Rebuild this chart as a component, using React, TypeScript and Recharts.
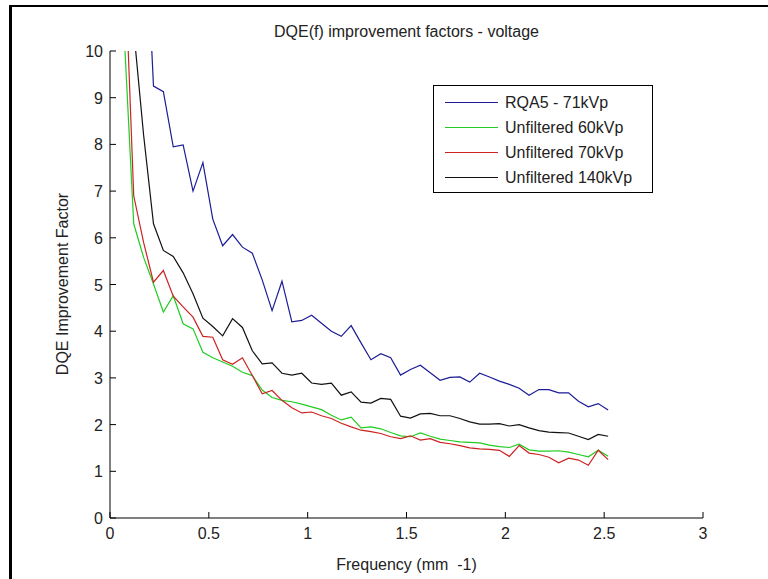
import { LineChart, Line, XAxis, YAxis } from "recharts";

// frequency (mm^-1)
const freq = [
  0.07, 0.12, 0.17, 0.22, 0.27, 0.32, 0.37, 0.42, 0.47, 0.52,
  0.57, 0.62, 0.67, 0.72, 0.77, 0.82, 0.87, 0.92, 0.97, 1.02,
  1.07, 1.12, 1.17, 1.22, 1.27, 1.32, 1.37, 1.42, 1.47, 1.52,
  1.57, 1.62, 1.67, 1.72, 1.77, 1.82, 1.87, 1.92, 1.97, 2.02,
  2.07, 2.12, 2.17, 2.22, 2.27, 2.32, 2.37, 2.42, 2.47, 2.52,
];

const rqa5 = [
  24, 18, 13.7, 9.25, 9.13, 7.95, 7.99, 7.0, 7.61, 6.4,
  5.83, 6.07, 5.8, 5.67, 5.1, 4.44, 5.07, 4.2, 4.23, 4.34,
  4.17, 4.0, 3.89, 4.12, 3.75, 3.39, 3.52, 3.43, 3.06, 3.18,
  3.27, 3.11, 2.95, 3.01, 3.02, 2.91, 3.1, 3.02, 2.93, 2.86,
  2.78, 2.63, 2.75, 2.75, 2.68, 2.68, 2.5, 2.38, 2.45, 2.31,
];

const unf60 = [
  10.5, 6.3, 5.58, 5.01, 4.41, 4.76, 4.16, 4.05, 3.55, 3.43,
  3.34, 3.25, 3.12, 3.05, 2.74, 2.58, 2.52, 2.49, 2.44, 2.38,
  2.32, 2.2, 2.1, 2.16, 1.93, 1.95, 1.91, 1.83, 1.76, 1.74,
  1.82, 1.75, 1.69, 1.66, 1.63, 1.62, 1.61, 1.56, 1.53, 1.51,
  1.58, 1.46, 1.43, 1.43, 1.44, 1.41, 1.36, 1.31, 1.45, 1.32,
];

const unf70 = [
  12.5, 6.9, 5.9, 5.05, 5.3, 4.75, 4.52, 4.3, 3.89, 3.87,
  3.39, 3.29, 3.43, 3.05, 2.66, 2.73, 2.52, 2.36, 2.25, 2.27,
  2.19, 2.13, 2.03, 1.95, 1.88, 1.85, 1.81, 1.74, 1.7, 1.76,
  1.67, 1.7, 1.62, 1.59, 1.55, 1.5, 1.48, 1.47, 1.45, 1.32,
  1.55, 1.39, 1.36, 1.3, 1.18, 1.28, 1.24, 1.13, 1.45, 1.25,
];

const unf140 = [
  14, 10.45, 8.2, 6.3, 5.73, 5.6, 5.25, 4.8, 4.28, 4.1,
  3.9, 4.27, 4.08, 3.58, 3.3, 3.32, 3.1, 3.06, 3.1, 2.89,
  2.86, 2.89, 2.63, 2.7, 2.48, 2.46, 2.56, 2.54, 2.18, 2.14,
  2.23, 2.24, 2.19, 2.19, 2.13, 2.06, 2.01, 2.01, 2.02, 1.97,
  2.0, 1.93, 1.87, 1.84, 1.83, 1.82, 1.75, 1.68, 1.79, 1.75,
];

const xTicks = [0, 0.5, 1, 1.5, 2, 2.5, 3];
const yTicks = [0, 1, 2, 3, 4, 5, 6, 7, 8, 9, 10];

const series = [
  { key: "rqa5", name: "RQA5 - 71kVp", color: "#1c1c96" },
  { key: "unf60", name: "Unfiltered 60kVp", color: "#22cc22" },
  { key: "unf70", name: "Unfiltered 70kVp", color: "#cc2222" },
  { key: "unf140", name: "Unfiltered 140kVp", color: "#111111" },
];

const data = freq.map((f, i) => ({
  f,
  rqa5: rqa5[i],
  unf60: unf60[i],
  unf70: unf70[i],
  unf140: unf140[i],
}));

const FONT = '"Liberation Sans", Arial, Helvetica, sans-serif';
const TEXT = "#222";

// MATLAB style: ticks point into the axes
const XTick = ({ x, y, payload }: any) => (
  <g>
    <line x1={x} x2={x} y1={y} y2={y - 6} stroke="#000" />
    <text x={x} y={y + 21} textAnchor="middle" fontSize={16} fontFamily={FONT} fill={TEXT}>
      {payload.value}
    </text>
  </g>
);

const YTick = ({ x, y, payload }: any) => (
  <g>
    <line x1={x} x2={x + 6} y1={y} y2={y} stroke="#000" />
    <text x={x - 7} y={y + 6} textAnchor="end" fontSize={16} fontFamily={FONT} fill={TEXT}>
      {payload.value}
    </text>
  </g>
);

export default function App() {
  return (
    <div
      style={{
        position: "fixed",
        left: 0,
        top: 0,
        width: 768,
        height: 579,
        overflow: "hidden",
        background: "#fff",
        fontFamily: FONT,
        color: TEXT,
      }}
    >
      {/* figure frame */}
      <div
        style={{
          position: "absolute",
          left: 9,
          top: 5,
          width: 800,
          height: 700,
          borderLeft: "3px solid #000",
          borderTop: "2px solid #000",
        }}
      />

      <LineChart
        width={768}
        height={579}
        data={data}
        margin={{ top: 51, right: 65, bottom: 21, left: 50 }}
        style={{ position: "absolute", left: 0, top: 0 }}
      >
        <XAxis
          type="number"
          dataKey="f"
          domain={[0, 3]}
          ticks={xTicks}
          height={40}
          tickSize={0}
          tickMargin={0}
          tickLine={false}
          axisLine={{ stroke: "#000" }}
          tick={<XTick />}
          interval={0}
        />
        <YAxis
          type="number"
          domain={[0, 10]}
          ticks={yTicks}
          width={60}
          allowDataOverflow
          tickSize={0}
          tickMargin={0}
          tickLine={false}
          axisLine={{ stroke: "#000" }}
          tick={<YTick />}
          interval={0}
        />
        {series.map((s) => (
          <Line
            key={s.key}
            type="linear"
            dataKey={s.key}
            name={s.name}
            stroke={s.color}
            strokeWidth={1.2}
            dot={false}
            isAnimationActive={false}
          />
        ))}
      </LineChart>

      {/* title */}
      <div
        style={{
          position: "absolute",
          left: 110,
          width: 593,
          top: 22,
          lineHeight: "20px",
          fontSize: 16,
          textAlign: "center",
        }}
      >
        DQE(f) improvement factors - voltage
      </div>

      {/* x label */}
      <div
        style={{
          position: "absolute",
          left: 110,
          width: 593,
          top: 555,
          lineHeight: "20px",
          fontSize: 16,
          textAlign: "center",
        }}
      >
        Frequency (mm&nbsp; -1)
      </div>

      {/* y label */}
      <div
        style={{
          position: "absolute",
          left: 63 - 150,
          top: 284 - 10,
          width: 300,
          height: 20,
          lineHeight: "20px",
          fontSize: 16,
          textAlign: "center",
          transform: "rotate(-90deg)",
        }}
      >
        DQE Improvement Factor
      </div>

      {/* legend */}
      <div
        style={{
          position: "absolute",
          left: 433,
          top: 85,
          width: 220,
          height: 108,
          boxSizing: "border-box",
          border: "1px solid #000",
          background: "#fff",
          paddingTop: 4,
        }}
      >
        {series.map((s) => (
          <div key={s.key} style={{ display: "flex", alignItems: "center", height: 25 }}>
            <div style={{ marginLeft: 11, width: 53, height: 0, borderTop: `1.2px solid ${s.color}` }} />
            <span style={{ marginLeft: 7, fontSize: 16, whiteSpace: "nowrap" }}>{s.name}</span>
          </div>
        ))}
      </div>
    </div>
  );
}
